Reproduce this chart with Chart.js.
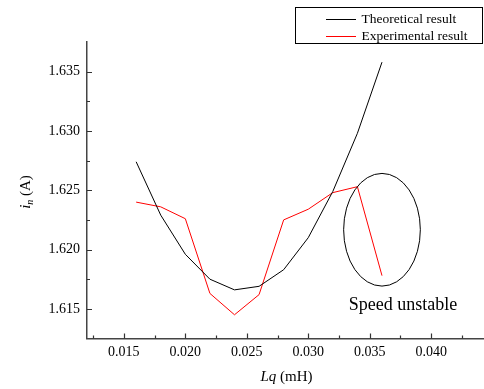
<!DOCTYPE html>
<html>
<head>
<meta charset="utf-8">
<script src="https://cdn.jsdelivr.net/npm/chart.js@4/dist/chart.umd.min.js"></script>
<style>
  html, body { margin: 0; padding: 0; background: #fff; }
  #wrap { position: relative; width: 484px; height: 389px; }
</style>
</head>
<body>
<div id="wrap"><canvas id="c" width="484" height="389"></canvas></div>
<script>
// ---- data ----
const lqValues = [0.016, 0.018, 0.020, 0.022, 0.024, 0.026, 0.028, 0.030, 0.032, 0.034, 0.036];
const theoretical = [1.6274, 1.6229, 1.6196, 1.6175, 1.6166, 1.6169, 1.6183, 1.6210, 1.6249, 1.6298, 1.6358];
const experimental = [1.6240, 1.6236, 1.6226, 1.6163, 1.6145, 1.6162, 1.6225, 1.6234, 1.6248, 1.6253, 1.6178];
const seriesLabels = ["Theoretical result", "Experimental result"];
const xTickValues = [0.015, 0.020, 0.025, 0.030, 0.035, 0.040];
const xMinorValues = [0.0125, 0.0175, 0.0225, 0.0275, 0.0325, 0.0375, 0.0425];
const yTickValues = [1.615, 1.620, 1.625, 1.630, 1.635];
const yMinorValues = [1.6175, 1.6225, 1.6275, 1.6325];
const annotationText = "Speed unstable";
const ellipseCenter = [0.036, 1.62167];
const ellipseRadii = [0.00312, 0.00475];
const annotationPos = [0.0377, 1.6153];

const SERIF = '"Liberation Serif", "Times New Roman", serif';

const toPts = (ys) => lqValues.map((x, i) => ({ x: x, y: ys[i] }));

const customPlugin = {
  id: 'custom',
  afterDraw(chart) {
    const ctx = chart.ctx;
    const xs = chart.scales.x, ys = chart.scales.y;
    const area = chart.chartArea;
    ctx.save();
    // ticks (inward)
    ctx.strokeStyle = '#333';
    ctx.lineWidth = 1.2;
    ctx.beginPath();
    xTickValues.forEach(v => { const px = Math.round(xs.getPixelForValue(v)) + 0.5; ctx.moveTo(px, area.bottom); ctx.lineTo(px, area.bottom - 5); });
    xMinorValues.forEach(v => { const px = Math.round(xs.getPixelForValue(v)) + 0.5; ctx.moveTo(px, area.bottom); ctx.lineTo(px, area.bottom - 3); });
    yTickValues.forEach(v => { const py = Math.round(ys.getPixelForValue(v)) + 0.5; ctx.moveTo(area.left, py); ctx.lineTo(area.left + 5, py); });
    yMinorValues.forEach(v => { const py = Math.round(ys.getPixelForValue(v)) + 0.5; ctx.moveTo(area.left, py); ctx.lineTo(area.left + 3, py); });
    ctx.stroke();

    // ellipse
    const cx = xs.getPixelForValue(ellipseCenter[0]);
    const cy = ys.getPixelForValue(ellipseCenter[1]);
    const rx = Math.abs(xs.getPixelForValue(ellipseCenter[0] + ellipseRadii[0]) - cx);
    const ry = Math.abs(ys.getPixelForValue(ellipseCenter[1] + ellipseRadii[1]) - cy);
    ctx.strokeStyle = '#000';
    ctx.lineWidth = 1;
    ctx.beginPath();
    ctx.ellipse(cx, cy, rx, ry, 0, 0, Math.PI * 2);
    ctx.stroke();

    // annotation text
    ctx.fillStyle = '#000';
    ctx.font = '18px ' + SERIF;
    ctx.textAlign = 'center';
    ctx.textBaseline = 'middle';
    ctx.fillText(annotationText, xs.getPixelForValue(annotationPos[0]), ys.getPixelForValue(annotationPos[1]));

    // x title: Lq (mH)
    ctx.textBaseline = 'middle';
    ctx.textAlign = 'left';
    const xt1 = 'Lq', xt2 = ' (mH)';
    ctx.font = 'italic 15px ' + SERIF;
    const w1 = ctx.measureText(xt1).width;
    ctx.font = '15px ' + SERIF;
    const w2 = ctx.measureText(xt2).width;
    const xcenter = (area.left + area.right) / 2 + 1;
    let sx = xcenter - (w1 + w2) / 2;
    const ty = 377;
    ctx.font = 'italic 15px ' + SERIF;
    ctx.fillText(xt1, sx, ty);
    ctx.font = '15px ' + SERIF;
    ctx.fillText(xt2, sx + w1, ty);

    // y title: i_n (A), rotated
    ctx.save();
    ctx.translate(25, 192);
    ctx.rotate(-Math.PI / 2);
    ctx.font = 'italic 15px ' + SERIF;
    const a1 = ctx.measureText('i').width;
    ctx.font = 'italic 10px ' + SERIF;
    const a2 = ctx.measureText('n').width;
    ctx.font = '15px ' + SERIF;
    const a3 = ctx.measureText(' (A)').width;
    let st = -(a1 + a2 + a3) / 2;
    ctx.textAlign = 'left';
    ctx.textBaseline = 'alphabetic';
    ctx.font = 'italic 15px ' + SERIF;
    ctx.fillText('i', st, 5);
    ctx.font = 'italic 10px ' + SERIF;
    ctx.fillText('n', st + a1, 8);
    ctx.font = '15px ' + SERIF;
    ctx.fillText(' (A)', st + a1 + a2, 5);
    ctx.restore();

    // legend box
    const lx = 295, ly = 7.5, lw = 187, lh = 36;
    ctx.fillStyle = '#fff';
    ctx.fillRect(lx, ly, lw, lh);
    ctx.strokeStyle = '#000';
    ctx.lineWidth = 1;
    ctx.strokeRect(lx + 0.5, ly, lw, lh);
    chart.data.datasets.forEach((ds, i) => {
      const yy = 19 + i * 17;
      ctx.strokeStyle = ds.borderColor;
      ctx.lineWidth = 1;
      ctx.beginPath();
      ctx.moveTo(326, yy + 0.5);
      ctx.lineTo(356, yy + 0.5);
      ctx.stroke();
      ctx.fillStyle = '#000';
      ctx.font = '13.5px ' + SERIF;
      ctx.textAlign = 'left';
      ctx.textBaseline = 'middle';
      ctx.fillText(ds.label, 361.5, yy);
    });
    ctx.restore();
  }
};

new Chart(document.getElementById('c'), {
  type: 'line',
  data: {
    datasets: [
      { label: seriesLabels[0], data: toPts(theoretical), borderColor: '#000000', borderWidth: 1, pointRadius: 0, tension: 0, fill: false },
      { label: seriesLabels[1], data: toPts(experimental), borderColor: '#ff0000', borderWidth: 1, pointRadius: 0, tension: 0, fill: false }
    ]
  },
  options: {
    responsive: false,
    animation: false,
    devicePixelRatio: 1,
    layout: { padding: { top: 42, right: 0, left: 0, bottom: 0 } },
    plugins: { legend: { display: false }, tooltip: { enabled: false } },
    scales: {
      x: {
        type: 'linear',
        min: 0.012,
        max: 0.0443,
        afterBuildTicks: (s) => { s.ticks = xTickValues.map(v => ({ value: v })); },
        afterFit: (s) => { s.height = 50.5; },
        grid: { display: false, drawTicks: false },
        border: { display: true, color: '#444', width: 1.5 },
        ticks: { padding: 5, color: '#000', font: { family: SERIF, size: 14 }, callback: (v) => v.toFixed(3), maxRotation: 0, autoSkip: false }
      },
      y: {
        type: 'linear',
        min: 1.6125,
        max: 1.6375,
        afterBuildTicks: (s) => { s.ticks = yTickValues.map(v => ({ value: v })); },
        afterFit: (s) => { s.width = 87; },
        grid: { display: false, drawTicks: false },
        border: { display: true, color: '#444', width: 1.5 },
        ticks: { padding: 7, color: '#000', font: { family: SERIF, size: 14 }, callback: (v) => v.toFixed(3), autoSkip: false }
      }
    }
  },
  plugins: [customPlugin]
});
</script>
</body>
</html>
